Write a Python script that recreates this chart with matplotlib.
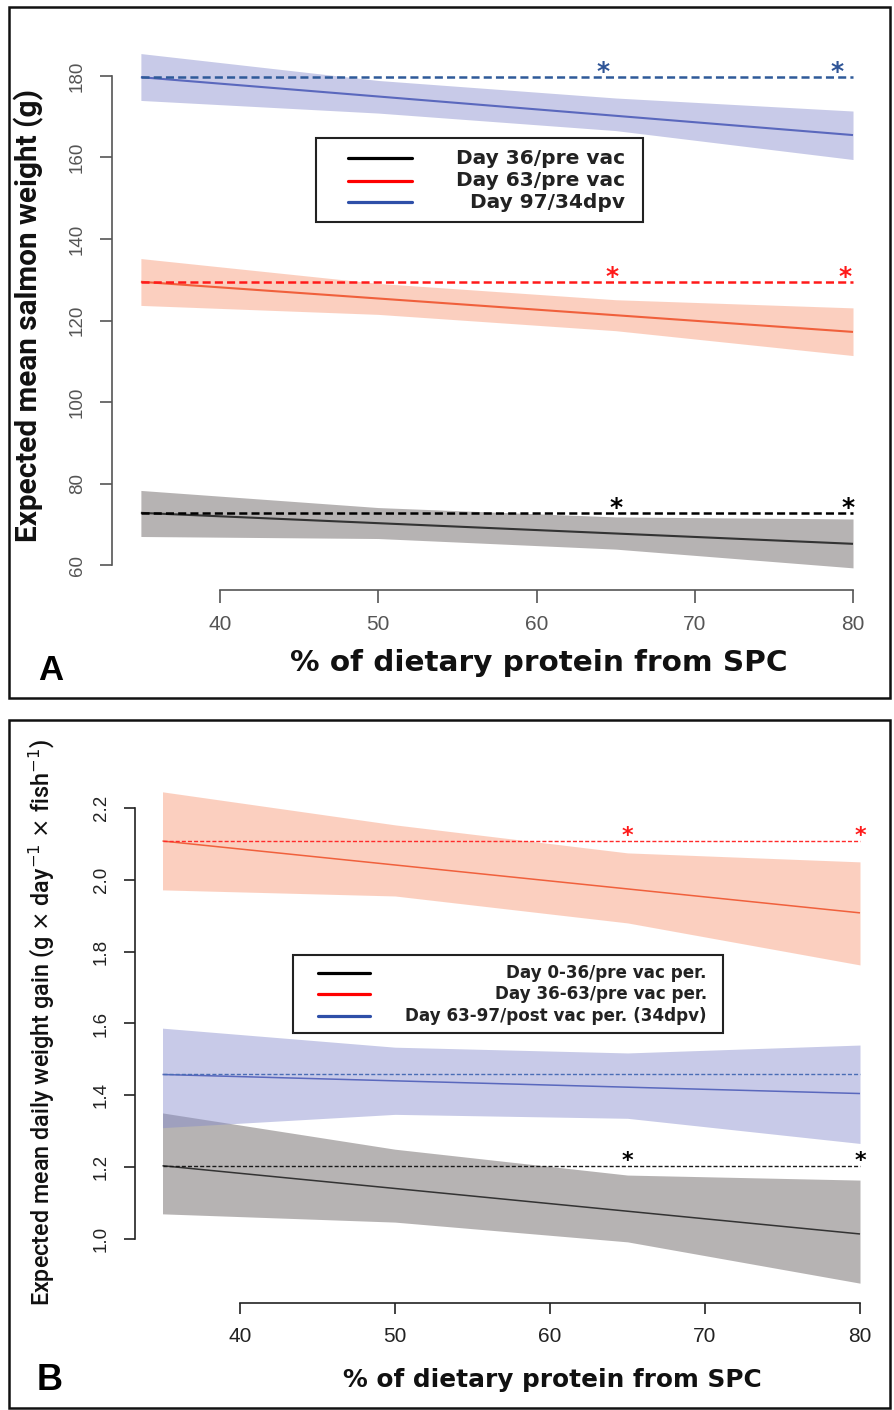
import matplotlib
matplotlib.use("Agg")
import matplotlib.pyplot as plt
import numpy as np
from matplotlib.patches import Rectangle

plt.rcParams["lines.scale_dashes"] = False

W, H = 894, 1410

# ---------------- data ----------------
# % of dietary protein from SPC at which the confidence bands are given
x_knots = [35, 50, 65, 80]
x_range = [35, 80]

# Panel A: expected mean salmon weight (g); series order: black, red, blue
a_labels = ["Day 36/pre vac", "Day 63/pre vac", "Day 97/34dpv"]
a_fit_start = [72.8, 129.5, 179.7]
a_fit_end = [65.2, 117.2, 165.5]
a_upper = [[78.3, 74.1, 71.8, 71.3],
           [135.2, 129.1, 125.1, 123.1],
           [185.5, 178.9, 174.6, 171.4]]
a_lower = [[67.0, 66.5, 63.9, 59.3],
           [123.7, 121.5, 117.5, 111.4],
           [174.0, 170.9, 166.6, 159.5]]
a_star_x = [[65.0, 79.7], [64.8, 79.5], [64.2, 79.0]]
a_yticks = [60, 80, 100, 120, 140, 160, 180]

# Panel B: expected mean daily weight gain; series order: black, red, blue
b_labels = ["Day 0-36/pre vac per.", "Day 36-63/pre vac per.",
            "Day 63-97/post vac per. (34dpv)"]
b_fit_start = [1.204, 2.108, 1.458]
b_fit_end = [1.014, 1.908, 1.405]
b_upper = [[1.351, 1.250, 1.178, 1.164],
           [2.245, 2.153, 2.075, 2.050],
           [1.587, 1.534, 1.518, 1.540]]
b_lower = [[1.070, 1.047, 0.992, 0.877],
           [1.972, 1.955, 1.880, 1.763],
           [1.310, 1.347, 1.336, 1.266]]
b_star_x = [[65.0, 80.0], [65.0, 80.0], []]
b_yticks = [1.0, 1.2, 1.4, 1.6, 1.8, 2.0, 2.2]

x_ticks = [40, 50, 60, 70, 80]

# ---------------- styles ----------------
fill_colors = ["#5f5858", "#f89673", "#858bcc"]
fill_alpha = 0.45
fit_colors = ["#333333", "#f0603c", "#5a68bd"]
a_ref_colors = ["#000000", "#ff1a1a", "#2f5a99"]
b_ref_colors = ["#1a1a1a", "#ff2a2a", "#4a6db5"]
legend_colors = ["#000000", "#ff0000", "#2e4fa8"]

fig = plt.figure(figsize=(W / 100, H / 100), dpi=100)
fig.patch.set_facecolor("white")


def px_axes(left, top, right, bottom, **kw):
    return fig.add_axes([left / W, 1 - bottom / H, (right - left) / W,
                         (bottom - top) / H], **kw)


def fit_text(t, target, along="width"):
    fig.canvas.draw()
    bb = t.get_window_extent(renderer=fig.canvas.get_renderer())
    cur = bb.width if along == "width" else bb.height
    t.set_fontsize(t.get_fontsize() * target / cur)


def draw_panel(ax, fit_start, fit_end, upper, lower, star_x, ref_colors,
               fit_lw, ref_lw, ref_dash, star_size, star_dy, star_colors):
    for i in range(3):
        ax.fill_between(x_knots, lower[i], upper[i], color=fill_colors[i],
                        alpha=fill_alpha, lw=0, zorder=1 + i * 0.1)
    for i in range(3):
        ax.plot(x_range, [fit_start[i], fit_end[i]], color=fit_colors[i],
                lw=fit_lw, zorder=3, solid_capstyle="butt")
        ax.plot(x_range, [fit_start[i], fit_start[i]], color=ref_colors[i],
                lw=ref_lw, dashes=ref_dash, zorder=4)
        for sx in star_x[i]:
            ax.annotate("*", (sx, fit_start[i]), xytext=(0, star_dy),
                        textcoords="offset points", ha="center",
                        va="baseline", fontsize=star_size,
                        color=star_colors[i], fontweight="bold", zorder=5)


def style_axes(ax, ybounds, yticks, axcol, tlen, ypad, xpad):
    for s in ("top", "right"):
        ax.spines[s].set_visible(False)
    ax.spines["left"].set_bounds(*ybounds)
    ax.spines["bottom"].set_bounds(40, 80)
    for s in ("left", "bottom"):
        ax.spines[s].set_color(axcol)
        ax.spines[s].set_linewidth(1.2)
    ax.set_xticks(x_ticks)
    ax.set_yticks(yticks)
    ax.tick_params(axis="both", direction="out", length=tlen, width=1.2,
                   color=axcol, labelcolor=axcol)
    ax.tick_params(axis="y", labelrotation=90, pad=ypad, labelsize=13.5)
    ax.tick_params(axis="x", pad=xpad, labelsize=15)
    for lab in ax.get_yticklabels() + ax.get_xticklabels():
        lab.set_family("Liberation Sans")
    for lab in ax.get_yticklabels():
        lab.set_va("center")
    ax.patch.set_visible(False)


# ---------------- panel A ----------------
axA = px_axes(112.4, 40, 881.5, 590)
axA.set_xlim(33.2, 81.8)
axA.set_ylim(53.87, 188.83)
draw_panel(axA, a_fit_start, a_fit_end, a_upper, a_lower, a_star_x,
           a_ref_colors, 1.5, 1.8, (5.8, 3.0), 18, -1.5,
           ["#000000", "#ff1a1a", "#2f5597"])
axA.set_yticks(a_yticks)
style_axes(axA, (60, 180), a_yticks, "#555555", 9, 10, 9)
axA.set_yticklabels([str(v) for v in a_yticks])

# ---------------- panel B ----------------
axB = px_axes(134.6, 760, 887.9, 1303)
axB.set_xlim(33.2, 81.8)
axB.set_ylim(0.8218, 2.3336)
draw_panel(axB, b_fit_start, b_fit_end, b_upper, b_lower, b_star_x,
           b_ref_colors, 1.1, 1.0, (2.9, 1.5), 16, -1.0,
           ["#000000", "#ff1a1a", "#2f5597"])
style_axes(axB, (1.0, 2.2), b_yticks, "#222222", 8, 10, 9)
axB.set_yticklabels([f"{v:.1f}" for v in b_yticks])

# ---------------- overlay: frames, titles, legends ----------------
ov = fig.add_axes([0, 0, 1, 1], zorder=10)
ov.set_xlim(0, W)
ov.set_ylim(H, 0)
ov.axis("off")

ov.add_patch(Rectangle((9, 7), 881, 691, fill=False, lw=1.8, ec="#111111"))
ov.add_patch(Rectangle((9, 720), 881, 688, fill=False, lw=1.8, ec="#111111"))

narrow = ["Liberation Sans Narrow", "Roboto", "DejaVu Sans"]

ytA = ov.text(29, 316, "Expected mean salmon weight (g)", rotation=90,
              ha="center", va="center", fontweight="bold", family=narrow,
              fontsize=22, color="#111111")
fit_text(ytA, 452, along="height")

ytB = ov.text(42, 1022,
              r"Expected mean daily weight gain (g $\times$ day$^{-1}$ $\times$ fish$^{-1}$)",
              rotation=90, ha="center", va="center", family=narrow,
              fontweight="medium", fontsize=16, color="#111111")
fit_text(ytB, 569, along="height")

xlA = ov.text(539, 663, "% of dietary protein from SPC", ha="center",
              va="center", fontweight="bold", family="DejaVu Sans",
              fontsize=18, color="#111111")
fit_text(xlA, 498)
xlB = ov.text(552, 1380, "% of dietary protein from SPC", ha="center",
              va="center", fontweight="bold", family="DejaVu Sans",
              fontsize=15, color="#111111")
fit_text(xlB, 419)

ov.text(51, 670, "A", ha="center", va="center", fontweight="bold",
        family="Liberation Sans", fontsize=25, color="#000000")
ov.text(50, 1381, "B", ha="center", va="center", fontweight="bold",
        family="Liberation Sans", fontsize=26, color="#000000")


def draw_legend(box, line_x, rows, text_right, labels, target_w):
    x0, y0, x1, y1 = box
    ov.add_patch(Rectangle((x0, y0), x1 - x0, y1 - y0, fill=True, fc="white",
                           lw=1.5, ec="#222222"))
    texts = []
    for y, lab, col in zip(rows, labels, legend_colors):
        ov.plot(line_x, [y, y], color=col, lw=2.3, solid_capstyle="round")
        texts.append(ov.text(text_right, y, lab, ha="right", va="center",
                             fontweight="bold", family="DejaVu Sans",
                             fontsize=12, color="#222222"))
    longest = max(texts, key=lambda t: len(t.get_text()))
    fit_text(longest, target_w)
    for t in texts:
        t.set_fontsize(longest.get_fontsize())


draw_legend((316, 138, 643, 222), [348, 412], [158, 181, 202], 625,
            a_labels, 168)
draw_legend((293, 955, 723, 1033), [318, 370], [973, 994, 1016], 707,
            b_labels, 300)

fig.savefig("out.png", dpi=100, facecolor="white")
